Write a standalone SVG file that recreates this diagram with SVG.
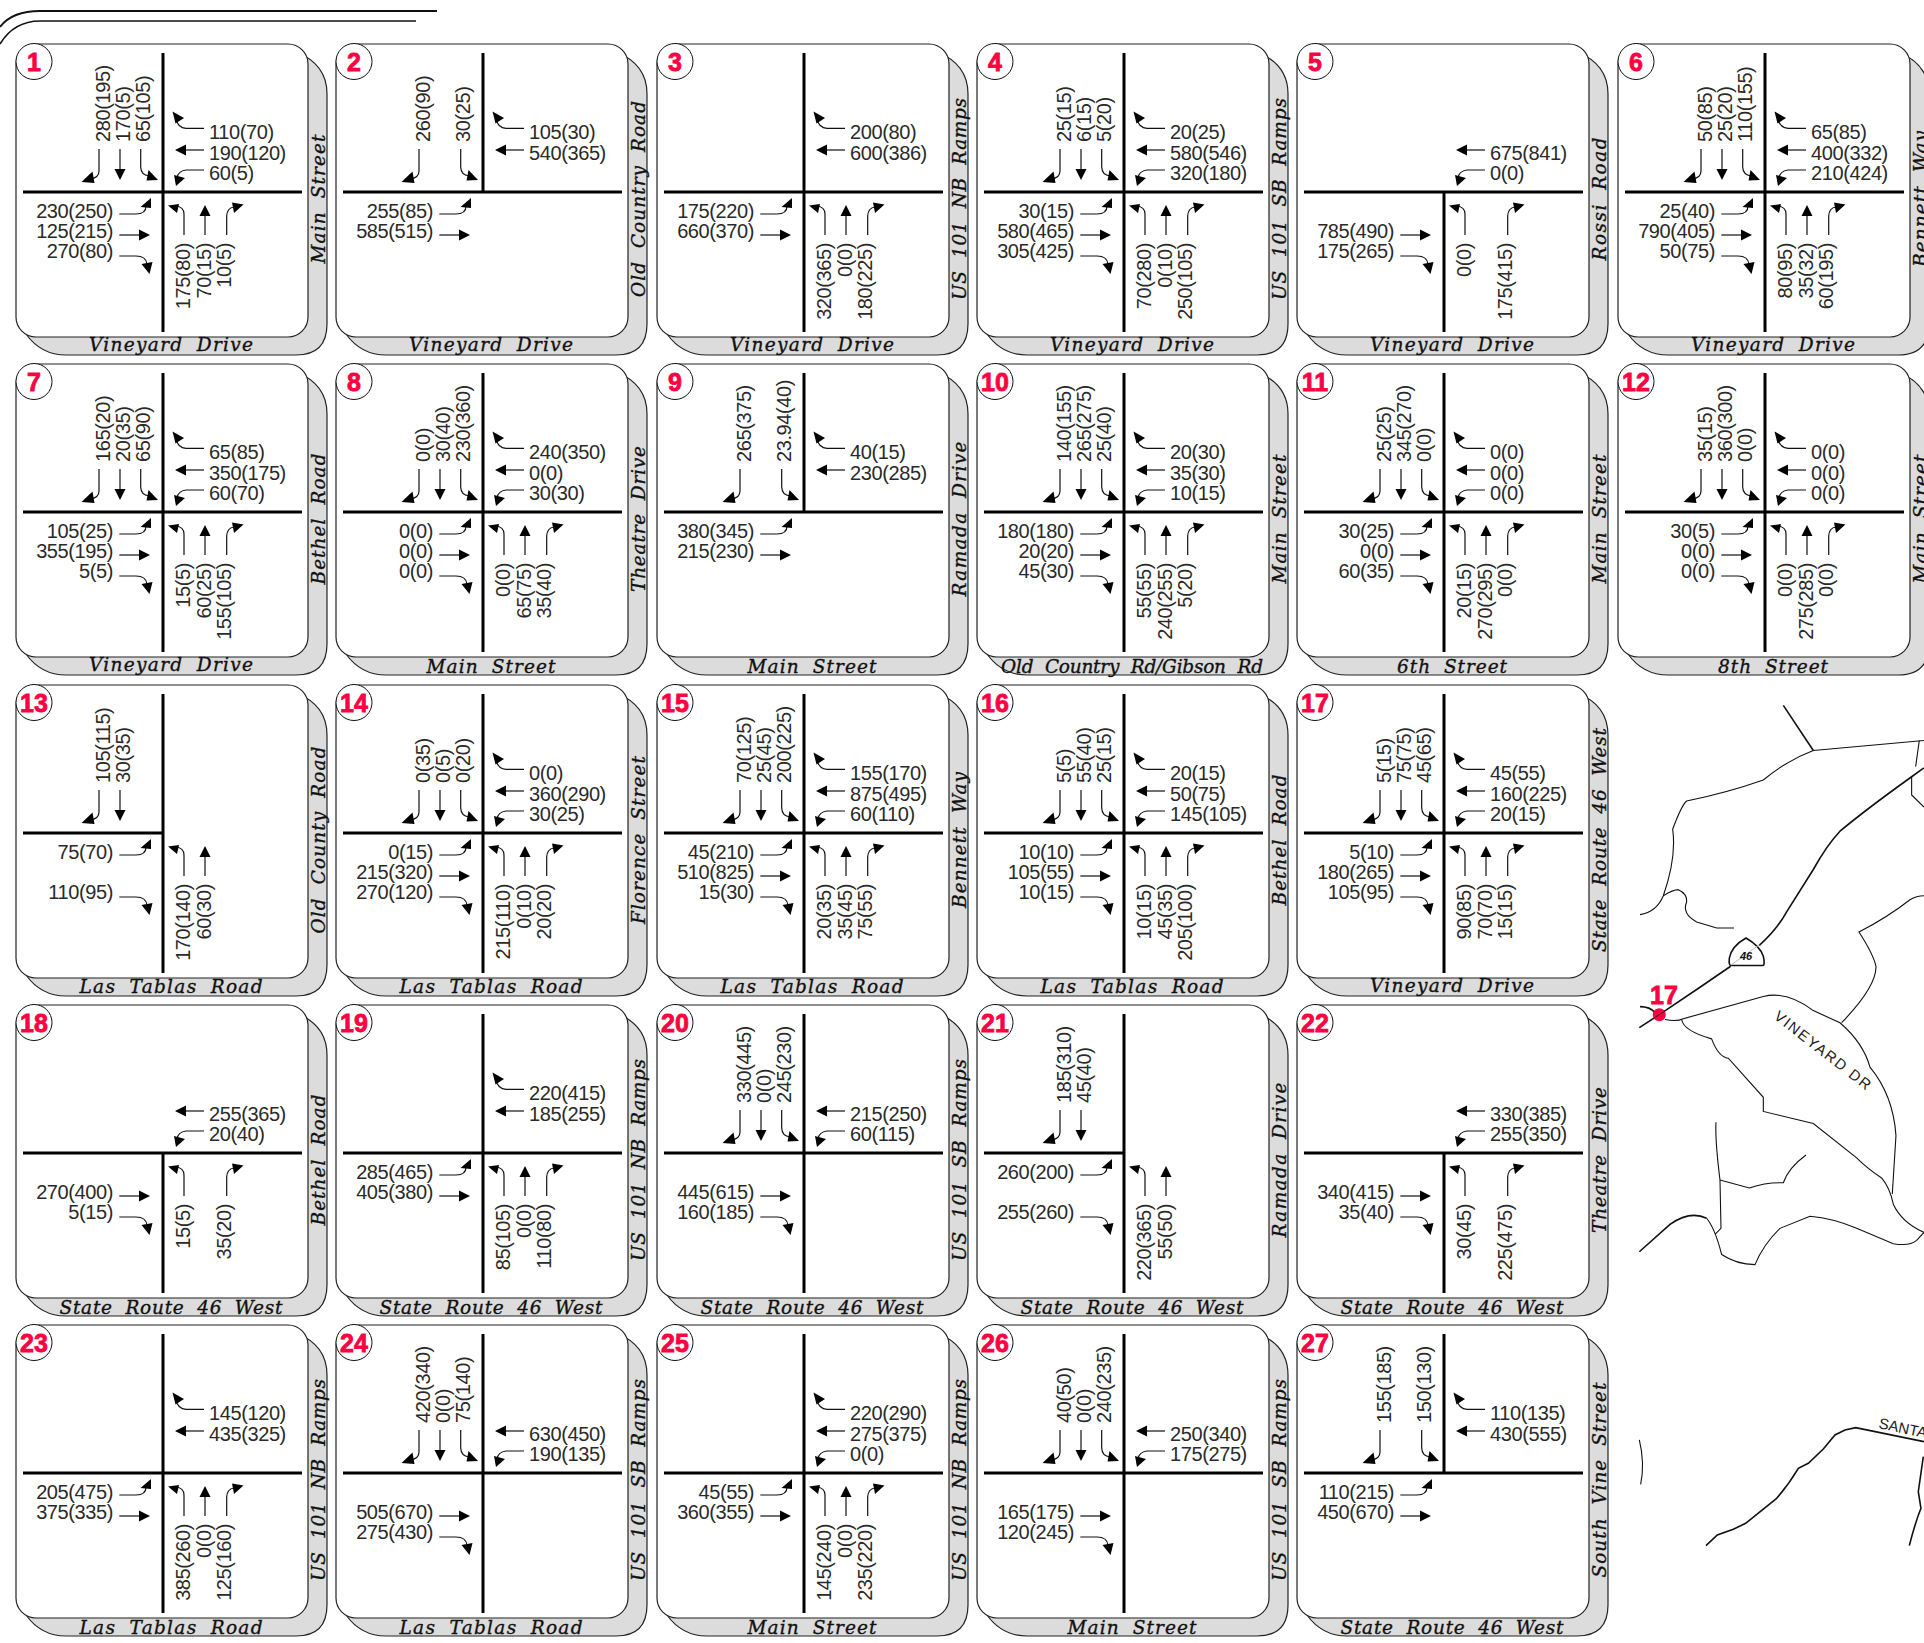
<svg xmlns="http://www.w3.org/2000/svg" width="1924" height="1643" viewBox="0 0 1924 1643">
<style>
text{font-family:"Liberation Sans",Arial,sans-serif}
.l{font-size:20px;fill:#2a2a2a;letter-spacing:-.4px}
.v{text-anchor:start}
.u{text-anchor:end}
.e{text-anchor:end}
.r{font-family:"DejaVu Serif",serif;font-size:18.5px;font-style:italic;font-weight:normal;stroke:#111;stroke-width:.35;text-anchor:middle;word-spacing:6px;fill:#111}
.b{font-size:25px;font-weight:bold;fill:#ff0040;stroke:#ff0040;stroke-width:.8;text-anchor:middle}
.g{fill:#dcdcdc;stroke:#222;stroke-width:1.2}
.w{fill:#fff;stroke:#222;stroke-width:1.2}
.c{fill:#fff;stroke:#111;stroke-width:1}
.x{fill:none;stroke:#000;stroke-width:3}
.a path{fill:none;stroke:#111;stroke-width:1.2}
.a polygon{fill:#000}
.m path,.k{fill:none;stroke:#111;stroke-width:1.1;vector-effect:non-scaling-stroke}
.m path.t{stroke-width:1.6}
.mt{font-size:15px;fill:#222}
</style>
<defs>
<g id="pb"><path class="g" d="M280 8Q311 20 311 50V280Q311 311 280 311H50Q25 311 10 290Z"/><rect class="w" width="292" height="293" rx="20"/><circle class="c" cx="18" cy="17.5" r="18"/></g>
<path id="xf" class="x" d="M147 9V288M7 148H286"/>
<path id="xt" class="x" d="M147 9V148M7 148H286"/>
<path id="xb" class="x" d="M147 148V288M7 148H286"/>
<path id="xl" class="x" d="M147 9V288M7 148H147"/>
<g id="s1" class="a"><path d="M83 105V127Q83 134 74 135"/><polygon points="65.5,138 76.5,127.5 78.5,139"/></g>
<g id="s2" class="a"><path d="M104 105V126"/><polygon points="104,136 98.5,125 109.5,125"/></g>
<g id="s3" class="a"><path d="M124.7 105V123Q125 131 133 132"/><polygon points="142,136 132.5,126 130.5,136.5"/></g>
<g id="w1" class="a"><path d="M188 84.3H170Q162 84 160 75"/><polygon points="156.5,67.5 168,74 159.5,79.5"/></g>
<g id="w2" class="a"><path d="M188 106H168"/><polygon points="159,106 170,100.5 170,111.5"/></g>
<g id="w3" class="a"><path d="M188 126H170Q162 127 161 134"/><polygon points="160,142 158,131 169,134"/></g>
<g id="e1" class="a"><path d="M103.3 170H120Q130 170 130 162"/><polygon points="135,154 124.5,163 135,164"/></g>
<g id="e2" class="a"><path d="M103.3 191H124"/><polygon points="134,191 123,185.5 123,196.5"/></g>
<g id="e3" class="a"><path d="M103.3 212H120Q130 212 131 220"/><polygon points="133.5,230 125.5,220 136.5,218"/></g>
<g id="n1_" class="a"><path d="M168 191V170Q168 163 160 162"/><polygon points="152,161.5 163,160 161,169"/></g>
<g id="n2_" class="a"><path d="M189 191V170"/><polygon points="189,161 183.5,172 194.5,172"/></g>
<g id="n3_" class="a"><path d="M210.7 191V172Q211 164 218 163"/><polygon points="227.5,160.5 216,158.5 218,169"/></g>
</defs>
<g id="frame"><path class="k" style="stroke-width:1.8" d="M0 27Q12 11 40 11H437"/><path class="k" style="stroke-width:1.5" d="M0 44Q14 21 40 21H416"/></g>

<g id="n1" transform="translate(16,44)"><use href="#pb"/><use href="#xf"/><text class="b" x="18" y="27">1</text>
<use href="#s1"/><use href="#s2"/><use href="#s3"/><use href="#w1"/><use href="#w2"/><use href="#w3"/><use href="#e1"/><use href="#e2"/><use href="#e3"/><use href="#n1_"/><use href="#n2_"/><use href="#n3_"/>
<text class="l v" x="94" y="98" transform="rotate(-90 94 98)">280(195)</text><text class="l v" x="114" y="98" transform="rotate(-90 114 98)">170(5)</text><text class="l v" x="134" y="98" transform="rotate(-90 134 98)">65(105)</text>
<text class="l" x="193" y="95">110(70)</text><text class="l" x="193" y="116">190(120)</text><text class="l" x="193" y="136">60(5)</text>
<text class="l e" x="97" y="174">230(250)</text><text class="l e" x="97" y="194">125(215)</text><text class="l e" x="97" y="214">270(80)</text>
<text class="l u" x="174" y="199" transform="rotate(-90 174 199)">175(80)</text><text class="l u" x="195" y="199" transform="rotate(-90 195 199)">70(15)</text><text class="l u" x="215" y="199" transform="rotate(-90 215 199)">10(5)</text>
<text class="r" x="155" y="307" textLength="164">Vineyard Drive</text><text class="r" x="309" y="155" transform="rotate(-90 309 155)" textLength="129">Main Street</text></g>

<g id="n2" transform="translate(336,44)"><use href="#pb"/><use href="#xt"/><text class="b" x="18" y="27">2</text>
<use href="#s1"/><use href="#s3"/><use href="#w1"/><use href="#w2"/><use href="#e1"/><use href="#e2"/>
<text class="l v" x="94" y="98" transform="rotate(-90 94 98)">260(90)</text><text class="l v" x="134" y="98" transform="rotate(-90 134 98)">30(25)</text>
<text class="l" x="193" y="95">105(30)</text><text class="l" x="193" y="116">540(365)</text>
<text class="l e" x="97" y="174">255(85)</text><text class="l e" x="97" y="194">585(515)</text>
<text class="r" x="155" y="307" textLength="164">Vineyard Drive</text><text class="r" x="309" y="155" transform="rotate(-90 309 155)" textLength="196">Old Country Road</text></g>

<g id="n3" transform="translate(657,44)"><use href="#pb"/><use href="#xf"/><text class="b" x="18" y="27">3</text>
<use href="#w1"/><use href="#w2"/><use href="#e1"/><use href="#e2"/><use href="#n1_"/><use href="#n2_"/><use href="#n3_"/>
<text class="l" x="193" y="95">200(80)</text><text class="l" x="193" y="116">600(386)</text>
<text class="l e" x="97" y="174">175(220)</text><text class="l e" x="97" y="194">660(370)</text>
<text class="l u" x="174" y="199" transform="rotate(-90 174 199)">320(365)</text><text class="l u" x="195" y="199" transform="rotate(-90 195 199)">0(0)</text><text class="l u" x="215" y="199" transform="rotate(-90 215 199)">180(225)</text>
<text class="r" x="155" y="307" textLength="164">Vineyard Drive</text><text class="r" x="309" y="155" transform="rotate(-90 309 155)" textLength="202">US 101 NB Ramps</text></g>

<g id="n4" transform="translate(977,44)"><use href="#pb"/><use href="#xf"/><text class="b" x="18" y="27">4</text>
<use href="#s1"/><use href="#s2"/><use href="#s3"/><use href="#w1"/><use href="#w2"/><use href="#w3"/><use href="#e1"/><use href="#e2"/><use href="#e3"/><use href="#n1_"/><use href="#n2_"/><use href="#n3_"/>
<text class="l v" x="94" y="98" transform="rotate(-90 94 98)">25(15)</text><text class="l v" x="114" y="98" transform="rotate(-90 114 98)">6(15)</text><text class="l v" x="134" y="98" transform="rotate(-90 134 98)">5(20)</text>
<text class="l" x="193" y="95">20(25)</text><text class="l" x="193" y="116">580(546)</text><text class="l" x="193" y="136">320(180)</text>
<text class="l e" x="97" y="174">30(15)</text><text class="l e" x="97" y="194">580(465)</text><text class="l e" x="97" y="214">305(425)</text>
<text class="l u" x="174" y="199" transform="rotate(-90 174 199)">70(280)</text><text class="l u" x="195" y="199" transform="rotate(-90 195 199)">0(10)</text><text class="l u" x="215" y="199" transform="rotate(-90 215 199)">250(105)</text>
<text class="r" x="155" y="307" textLength="164">Vineyard Drive</text><text class="r" x="309" y="155" transform="rotate(-90 309 155)" textLength="202">US 101 SB Ramps</text></g>

<g id="n5" transform="translate(1297,44)"><use href="#pb"/><use href="#xb"/><text class="b" x="18" y="27">5</text>
<use href="#w2"/><use href="#w3"/><use href="#e2"/><use href="#e3"/><use href="#n1_"/><use href="#n3_"/>
<text class="l" x="193" y="116">675(841)</text><text class="l" x="193" y="136">0(0)</text>
<text class="l e" x="97" y="194">785(490)</text><text class="l e" x="97" y="214">175(265)</text>
<text class="l u" x="174" y="199" transform="rotate(-90 174 199)">0(0)</text><text class="l u" x="215" y="199" transform="rotate(-90 215 199)">175(415)</text>
<text class="r" x="155" y="307" textLength="164">Vineyard Drive</text><text class="r" x="309" y="155" transform="rotate(-90 309 155)" textLength="123">Rossi Road</text></g>

<g id="n6" transform="translate(1618,44)"><use href="#pb"/><use href="#xf"/><text class="b" x="18" y="27">6</text>
<use href="#s1"/><use href="#s2"/><use href="#s3"/><use href="#w1"/><use href="#w2"/><use href="#w3"/><use href="#e1"/><use href="#e2"/><use href="#e3"/><use href="#n1_"/><use href="#n2_"/><use href="#n3_"/>
<text class="l v" x="94" y="98" transform="rotate(-90 94 98)">50(85)</text><text class="l v" x="114" y="98" transform="rotate(-90 114 98)">25(20)</text><text class="l v" x="134" y="98" transform="rotate(-90 134 98)">110(155)</text>
<text class="l" x="193" y="95">65(85)</text><text class="l" x="193" y="116">400(332)</text><text class="l" x="193" y="136">210(424)</text>
<text class="l e" x="97" y="174">25(40)</text><text class="l e" x="97" y="194">790(405)</text><text class="l e" x="97" y="214">50(75)</text>
<text class="l u" x="174" y="199" transform="rotate(-90 174 199)">80(95)</text><text class="l u" x="195" y="199" transform="rotate(-90 195 199)">35(32)</text><text class="l u" x="215" y="199" transform="rotate(-90 215 199)">60(195)</text>
<text class="r" x="155" y="307" textLength="164">Vineyard Drive</text><text class="r" x="309" y="155" transform="rotate(-90 309 155)" textLength="136">Bennett Way</text></g>

<g id="n7" transform="translate(16,364)"><use href="#pb"/><use href="#xf"/><text class="b" x="18" y="27">7</text>
<use href="#s1"/><use href="#s2"/><use href="#s3"/><use href="#w1"/><use href="#w2"/><use href="#w3"/><use href="#e1"/><use href="#e2"/><use href="#e3"/><use href="#n1_"/><use href="#n2_"/><use href="#n3_"/>
<text class="l v" x="94" y="98" transform="rotate(-90 94 98)">165(20)</text><text class="l v" x="114" y="98" transform="rotate(-90 114 98)">20(35)</text><text class="l v" x="134" y="98" transform="rotate(-90 134 98)">65(90)</text>
<text class="l" x="193" y="95">65(85)</text><text class="l" x="193" y="116">350(175)</text><text class="l" x="193" y="136">60(70)</text>
<text class="l e" x="97" y="174">105(25)</text><text class="l e" x="97" y="194">355(195)</text><text class="l e" x="97" y="214">5(5)</text>
<text class="l u" x="174" y="199" transform="rotate(-90 174 199)">15(5)</text><text class="l u" x="195" y="199" transform="rotate(-90 195 199)">60(25)</text><text class="l u" x="215" y="199" transform="rotate(-90 215 199)">155(105)</text>
<text class="r" x="155" y="307" textLength="164">Vineyard Drive</text><text class="r" x="309" y="155" transform="rotate(-90 309 155)" textLength="131">Bethel Road</text></g>

<g id="n8" transform="translate(336,364)"><use href="#pb"/><use href="#xf"/><text class="b" x="18" y="27">8</text>
<use href="#s1"/><use href="#s2"/><use href="#s3"/><use href="#w1"/><use href="#w2"/><use href="#w3"/><use href="#e1"/><use href="#e2"/><use href="#e3"/><use href="#n1_"/><use href="#n2_"/><use href="#n3_"/>
<text class="l v" x="94" y="98" transform="rotate(-90 94 98)">0(0)</text><text class="l v" x="114" y="98" transform="rotate(-90 114 98)">30(40)</text><text class="l v" x="134" y="98" transform="rotate(-90 134 98)">230(360)</text>
<text class="l" x="193" y="95">240(350)</text><text class="l" x="193" y="116">0(0)</text><text class="l" x="193" y="136">30(30)</text>
<text class="l e" x="97" y="174">0(0)</text><text class="l e" x="97" y="194">0(0)</text><text class="l e" x="97" y="214">0(0)</text>
<text class="l u" x="174" y="199" transform="rotate(-90 174 199)">0(0)</text><text class="l u" x="195" y="199" transform="rotate(-90 195 199)">65(75)</text><text class="l u" x="215" y="199" transform="rotate(-90 215 199)">35(40)</text>
<text class="r" x="155" y="309" textLength="129">Main Street</text><text class="r" x="309" y="155" transform="rotate(-90 309 155)" textLength="146">Theatre Drive</text></g>

<g id="n9" transform="translate(657,364)"><use href="#pb"/><use href="#xt"/><text class="b" x="18" y="27">9</text>
<use href="#s1"/><use href="#s3"/><use href="#w1"/><use href="#w2"/><use href="#e1"/><use href="#e2"/>
<text class="l v" x="94" y="98" transform="rotate(-90 94 98)">265(375)</text><text class="l v" x="134" y="98" transform="rotate(-90 134 98)">23.94(40)</text>
<text class="l" x="193" y="95">40(15)</text><text class="l" x="193" y="116">230(285)</text>
<text class="l e" x="97" y="174">380(345)</text><text class="l e" x="97" y="194">215(230)</text>
<text class="r" x="155" y="309" textLength="129">Main Street</text><text class="r" x="309" y="155" transform="rotate(-90 309 155)" textLength="155">Ramada Drive</text></g>

<g id="n10" transform="translate(977,364)"><use href="#pb"/><use href="#xf"/><text class="b" x="18" y="27">10</text>
<use href="#s1"/><use href="#s2"/><use href="#s3"/><use href="#w1"/><use href="#w2"/><use href="#w3"/><use href="#e1"/><use href="#e2"/><use href="#e3"/><use href="#n1_"/><use href="#n2_"/><use href="#n3_"/>
<text class="l v" x="94" y="98" transform="rotate(-90 94 98)">140(155)</text><text class="l v" x="114" y="98" transform="rotate(-90 114 98)">265(275)</text><text class="l v" x="134" y="98" transform="rotate(-90 134 98)">25(40)</text>
<text class="l" x="193" y="95">20(30)</text><text class="l" x="193" y="116">35(30)</text><text class="l" x="193" y="136">10(15)</text>
<text class="l e" x="97" y="174">180(180)</text><text class="l e" x="97" y="194">20(20)</text><text class="l e" x="97" y="214">45(30)</text>
<text class="l u" x="174" y="199" transform="rotate(-90 174 199)">55(55)</text><text class="l u" x="195" y="199" transform="rotate(-90 195 199)">240(255)</text><text class="l u" x="215" y="199" transform="rotate(-90 215 199)">5(20)</text>
<text class="r" x="155" y="309" textLength="262">Old Country Rd/Gibson Rd</text><text class="r" x="309" y="155" transform="rotate(-90 309 155)" textLength="129">Main Street</text></g>

<g id="n11" transform="translate(1297,364)"><use href="#pb"/><use href="#xf"/><text class="b" x="18" y="27">11</text>
<use href="#s1"/><use href="#s2"/><use href="#s3"/><use href="#w1"/><use href="#w2"/><use href="#w3"/><use href="#e1"/><use href="#e2"/><use href="#e3"/><use href="#n1_"/><use href="#n2_"/><use href="#n3_"/>
<text class="l v" x="94" y="98" transform="rotate(-90 94 98)">25(25)</text><text class="l v" x="114" y="98" transform="rotate(-90 114 98)">345(270)</text><text class="l v" x="134" y="98" transform="rotate(-90 134 98)">0(0)</text>
<text class="l" x="193" y="95">0(0)</text><text class="l" x="193" y="116">0(0)</text><text class="l" x="193" y="136">0(0)</text>
<text class="l e" x="97" y="174">30(25)</text><text class="l e" x="97" y="194">0(0)</text><text class="l e" x="97" y="214">60(35)</text>
<text class="l u" x="174" y="199" transform="rotate(-90 174 199)">20(15)</text><text class="l u" x="195" y="199" transform="rotate(-90 195 199)">270(295)</text><text class="l u" x="215" y="199" transform="rotate(-90 215 199)">0(0)</text>
<text class="r" x="155" y="309" textLength="110">6th Street</text><text class="r" x="309" y="155" transform="rotate(-90 309 155)" textLength="129">Main Street</text></g>

<g id="n12" transform="translate(1618,364)"><use href="#pb"/><use href="#xf"/><text class="b" x="18" y="27">12</text>
<use href="#s1"/><use href="#s2"/><use href="#s3"/><use href="#w1"/><use href="#w2"/><use href="#w3"/><use href="#e1"/><use href="#e2"/><use href="#e3"/><use href="#n1_"/><use href="#n2_"/><use href="#n3_"/>
<text class="l v" x="94" y="98" transform="rotate(-90 94 98)">35(15)</text><text class="l v" x="114" y="98" transform="rotate(-90 114 98)">360(300)</text><text class="l v" x="134" y="98" transform="rotate(-90 134 98)">0(0)</text>
<text class="l" x="193" y="95">0(0)</text><text class="l" x="193" y="116">0(0)</text><text class="l" x="193" y="136">0(0)</text>
<text class="l e" x="97" y="174">30(5)</text><text class="l e" x="97" y="194">0(0)</text><text class="l e" x="97" y="214">0(0)</text>
<text class="l u" x="174" y="199" transform="rotate(-90 174 199)">0(0)</text><text class="l u" x="195" y="199" transform="rotate(-90 195 199)">275(285)</text><text class="l u" x="215" y="199" transform="rotate(-90 215 199)">0(0)</text>
<text class="r" x="155" y="309" textLength="110">8th Street</text><text class="r" x="309" y="155" transform="rotate(-90 309 155)" textLength="129">Main Street</text></g>

<g id="n13" transform="translate(16,685)"><use href="#pb"/><use href="#xl"/><text class="b" x="18" y="27">13</text>
<use href="#s1"/><use href="#s2"/><use href="#e1"/><use href="#e3"/><use href="#n1_"/><use href="#n2_"/>
<text class="l v" x="94" y="98" transform="rotate(-90 94 98)">105(115)</text><text class="l v" x="114" y="98" transform="rotate(-90 114 98)">30(35)</text>
<text class="l e" x="97" y="174">75(70)</text><text class="l e" x="97" y="214">110(95)</text>
<text class="l u" x="174" y="199" transform="rotate(-90 174 199)">170(140)</text><text class="l u" x="195" y="199" transform="rotate(-90 195 199)">60(30)</text>
<text class="r" x="155" y="308" textLength="183">Las Tablas Road</text><text class="r" x="309" y="155" transform="rotate(-90 309 155)" textLength="187">Old County Road</text></g>

<g id="n14" transform="translate(336,685)"><use href="#pb"/><use href="#xf"/><text class="b" x="18" y="27">14</text>
<use href="#s1"/><use href="#s2"/><use href="#s3"/><use href="#w1"/><use href="#w2"/><use href="#w3"/><use href="#e1"/><use href="#e2"/><use href="#e3"/><use href="#n1_"/><use href="#n2_"/><use href="#n3_"/>
<text class="l v" x="94" y="98" transform="rotate(-90 94 98)">0(35)</text><text class="l v" x="114" y="98" transform="rotate(-90 114 98)">0(5)</text><text class="l v" x="134" y="98" transform="rotate(-90 134 98)">0(20)</text>
<text class="l" x="193" y="95">0(0)</text><text class="l" x="193" y="116">360(290)</text><text class="l" x="193" y="136">30(25)</text>
<text class="l e" x="97" y="174">0(15)</text><text class="l e" x="97" y="194">215(320)</text><text class="l e" x="97" y="214">270(120)</text>
<text class="l u" x="174" y="199" transform="rotate(-90 174 199)">215(110)</text><text class="l u" x="195" y="199" transform="rotate(-90 195 199)">0(10)</text><text class="l u" x="215" y="199" transform="rotate(-90 215 199)">20(20)</text>
<text class="r" x="155" y="308" textLength="183">Las Tablas Road</text><text class="r" x="309" y="155" transform="rotate(-90 309 155)" textLength="168">Florence Street</text></g>

<g id="n15" transform="translate(657,685)"><use href="#pb"/><use href="#xf"/><text class="b" x="18" y="27">15</text>
<use href="#s1"/><use href="#s2"/><use href="#s3"/><use href="#w1"/><use href="#w2"/><use href="#w3"/><use href="#e1"/><use href="#e2"/><use href="#e3"/><use href="#n1_"/><use href="#n2_"/><use href="#n3_"/>
<text class="l v" x="94" y="98" transform="rotate(-90 94 98)">70(125)</text><text class="l v" x="114" y="98" transform="rotate(-90 114 98)">25(45)</text><text class="l v" x="134" y="98" transform="rotate(-90 134 98)">200(225)</text>
<text class="l" x="193" y="95">155(170)</text><text class="l" x="193" y="116">875(495)</text><text class="l" x="193" y="136">60(110)</text>
<text class="l e" x="97" y="174">45(210)</text><text class="l e" x="97" y="194">510(825)</text><text class="l e" x="97" y="214">15(30)</text>
<text class="l u" x="174" y="199" transform="rotate(-90 174 199)">20(35)</text><text class="l u" x="195" y="199" transform="rotate(-90 195 199)">35(45)</text><text class="l u" x="215" y="199" transform="rotate(-90 215 199)">75(55)</text>
<text class="r" x="155" y="308" textLength="183">Las Tablas Road</text><text class="r" x="309" y="155" transform="rotate(-90 309 155)" textLength="136">Bennett Way</text></g>

<g id="n16" transform="translate(977,685)"><use href="#pb"/><use href="#xf"/><text class="b" x="18" y="27">16</text>
<use href="#s1"/><use href="#s2"/><use href="#s3"/><use href="#w1"/><use href="#w2"/><use href="#w3"/><use href="#e1"/><use href="#e2"/><use href="#e3"/><use href="#n1_"/><use href="#n2_"/><use href="#n3_"/>
<text class="l v" x="94" y="98" transform="rotate(-90 94 98)">5(5)</text><text class="l v" x="114" y="98" transform="rotate(-90 114 98)">55(40)</text><text class="l v" x="134" y="98" transform="rotate(-90 134 98)">25(15)</text>
<text class="l" x="193" y="95">20(15)</text><text class="l" x="193" y="116">50(75)</text><text class="l" x="193" y="136">145(105)</text>
<text class="l e" x="97" y="174">10(10)</text><text class="l e" x="97" y="194">105(55)</text><text class="l e" x="97" y="214">10(15)</text>
<text class="l u" x="174" y="199" transform="rotate(-90 174 199)">10(15)</text><text class="l u" x="195" y="199" transform="rotate(-90 195 199)">45(35)</text><text class="l u" x="215" y="199" transform="rotate(-90 215 199)">205(100)</text>
<text class="r" x="155" y="308" textLength="183">Las Tablas Road</text><text class="r" x="309" y="155" transform="rotate(-90 309 155)" textLength="131">Bethel Road</text></g>

<g id="n17" transform="translate(1297,685)"><use href="#pb"/><use href="#xf"/><text class="b" x="18" y="27">17</text>
<use href="#s1"/><use href="#s2"/><use href="#s3"/><use href="#w1"/><use href="#w2"/><use href="#w3"/><use href="#e1"/><use href="#e2"/><use href="#e3"/><use href="#n1_"/><use href="#n2_"/><use href="#n3_"/>
<text class="l v" x="94" y="98" transform="rotate(-90 94 98)">5(15)</text><text class="l v" x="114" y="98" transform="rotate(-90 114 98)">75(75)</text><text class="l v" x="134" y="98" transform="rotate(-90 134 98)">45(65)</text>
<text class="l" x="193" y="95">45(55)</text><text class="l" x="193" y="116">160(225)</text><text class="l" x="193" y="136">20(15)</text>
<text class="l e" x="97" y="174">5(10)</text><text class="l e" x="97" y="194">180(265)</text><text class="l e" x="97" y="214">105(95)</text>
<text class="l u" x="174" y="199" transform="rotate(-90 174 199)">90(85)</text><text class="l u" x="195" y="199" transform="rotate(-90 195 199)">70(70)</text><text class="l u" x="215" y="199" transform="rotate(-90 215 199)">15(15)</text>
<text class="r" x="155" y="307" textLength="164">Vineyard Drive</text><text class="r" x="309" y="155" transform="rotate(-90 309 155)" textLength="224">State Route 46 West</text></g>

<g id="n18" transform="translate(16,1005)"><use href="#pb"/><use href="#xb"/><text class="b" x="18" y="27">18</text>
<use href="#w2"/><use href="#w3"/><use href="#e2"/><use href="#e3"/><use href="#n1_"/><use href="#n3_"/>
<text class="l" x="193" y="116">255(365)</text><text class="l" x="193" y="136">20(40)</text>
<text class="l e" x="97" y="194">270(400)</text><text class="l e" x="97" y="214">5(15)</text>
<text class="l u" x="174" y="199" transform="rotate(-90 174 199)">15(5)</text><text class="l u" x="215" y="199" transform="rotate(-90 215 199)">35(20)</text>
<text class="r" x="155" y="309" textLength="223">State Route 46 West</text><text class="r" x="309" y="155" transform="rotate(-90 309 155)" textLength="131">Bethel Road</text></g>

<g id="n19" transform="translate(336,1005)"><use href="#pb"/><use href="#xf"/><text class="b" x="18" y="27">19</text>
<use href="#w1"/><use href="#w2"/><use href="#e1"/><use href="#e2"/><use href="#n1_"/><use href="#n2_"/><use href="#n3_"/>
<text class="l" x="193" y="95">220(415)</text><text class="l" x="193" y="116">185(255)</text>
<text class="l e" x="97" y="174">285(465)</text><text class="l e" x="97" y="194">405(380)</text>
<text class="l u" x="174" y="199" transform="rotate(-90 174 199)">85(105)</text><text class="l u" x="195" y="199" transform="rotate(-90 195 199)">0(0)</text><text class="l u" x="215" y="199" transform="rotate(-90 215 199)">110(80)</text>
<text class="r" x="155" y="309" textLength="223">State Route 46 West</text><text class="r" x="309" y="155" transform="rotate(-90 309 155)" textLength="202">US 101 NB Ramps</text></g>

<g id="n20" transform="translate(657,1005)"><use href="#pb"/><use href="#xf"/><text class="b" x="18" y="27">20</text>
<use href="#s1"/><use href="#s2"/><use href="#s3"/><use href="#w2"/><use href="#w3"/><use href="#e2"/><use href="#e3"/>
<text class="l v" x="94" y="98" transform="rotate(-90 94 98)">330(445)</text><text class="l v" x="114" y="98" transform="rotate(-90 114 98)">0(0)</text><text class="l v" x="134" y="98" transform="rotate(-90 134 98)">245(230)</text>
<text class="l" x="193" y="116">215(250)</text><text class="l" x="193" y="136">60(115)</text>
<text class="l e" x="97" y="194">445(615)</text><text class="l e" x="97" y="214">160(185)</text>
<text class="r" x="155" y="309" textLength="223">State Route 46 West</text><text class="r" x="309" y="155" transform="rotate(-90 309 155)" textLength="202">US 101 SB Ramps</text></g>

<g id="n21" transform="translate(977,1005)"><use href="#pb"/><use href="#xl"/><text class="b" x="18" y="27">21</text>
<use href="#s1"/><use href="#s2"/><use href="#e1"/><use href="#e3"/><use href="#n1_"/><use href="#n2_"/>
<text class="l v" x="94" y="98" transform="rotate(-90 94 98)">185(310)</text><text class="l v" x="114" y="98" transform="rotate(-90 114 98)">45(40)</text>
<text class="l e" x="97" y="174">260(200)</text><text class="l e" x="97" y="214">255(260)</text>
<text class="l u" x="174" y="199" transform="rotate(-90 174 199)">220(365)</text><text class="l u" x="195" y="199" transform="rotate(-90 195 199)">55(50)</text>
<text class="r" x="155" y="309" textLength="223">State Route 46 West</text><text class="r" x="309" y="155" transform="rotate(-90 309 155)" textLength="155">Ramada Drive</text></g>

<g id="n22" transform="translate(1297,1005)"><use href="#pb"/><use href="#xb"/><text class="b" x="18" y="27">22</text>
<use href="#w2"/><use href="#w3"/><use href="#e2"/><use href="#e3"/><use href="#n1_"/><use href="#n3_"/>
<text class="l" x="193" y="116">330(385)</text><text class="l" x="193" y="136">255(350)</text>
<text class="l e" x="97" y="194">340(415)</text><text class="l e" x="97" y="214">35(40)</text>
<text class="l u" x="174" y="199" transform="rotate(-90 174 199)">30(45)</text><text class="l u" x="215" y="199" transform="rotate(-90 215 199)">225(475)</text>
<text class="r" x="155" y="309" textLength="223">State Route 46 West</text><text class="r" x="309" y="155" transform="rotate(-90 309 155)" textLength="146">Theatre Drive</text></g>

<g id="n23" transform="translate(16,1325)"><use href="#pb"/><use href="#xf"/><text class="b" x="18" y="27">23</text>
<use href="#w1"/><use href="#w2"/><use href="#e1"/><use href="#e2"/><use href="#n1_"/><use href="#n2_"/><use href="#n3_"/>
<text class="l" x="193" y="95">145(120)</text><text class="l" x="193" y="116">435(325)</text>
<text class="l e" x="97" y="174">205(475)</text><text class="l e" x="97" y="194">375(335)</text>
<text class="l u" x="174" y="199" transform="rotate(-90 174 199)">385(260)</text><text class="l u" x="195" y="199" transform="rotate(-90 195 199)">0(0)</text><text class="l u" x="215" y="199" transform="rotate(-90 215 199)">125(160)</text>
<text class="r" x="155" y="309" textLength="183">Las Tablas Road</text><text class="r" x="309" y="155" transform="rotate(-90 309 155)" textLength="202">US 101 NB Ramps</text></g>

<g id="n24" transform="translate(336,1325)"><use href="#pb"/><use href="#xf"/><text class="b" x="18" y="27">24</text>
<use href="#s1"/><use href="#s2"/><use href="#s3"/><use href="#w2"/><use href="#w3"/><use href="#e2"/><use href="#e3"/>
<text class="l v" x="94" y="98" transform="rotate(-90 94 98)">420(340)</text><text class="l v" x="114" y="98" transform="rotate(-90 114 98)">0(0)</text><text class="l v" x="134" y="98" transform="rotate(-90 134 98)">75(140)</text>
<text class="l" x="193" y="116">630(450)</text><text class="l" x="193" y="136">190(135)</text>
<text class="l e" x="97" y="194">505(670)</text><text class="l e" x="97" y="214">275(430)</text>
<text class="r" x="155" y="309" textLength="183">Las Tablas Road</text><text class="r" x="309" y="155" transform="rotate(-90 309 155)" textLength="202">US 101 SB Ramps</text></g>

<g id="n25" transform="translate(657,1325)"><use href="#pb"/><use href="#xf"/><text class="b" x="18" y="27">25</text>
<use href="#w1"/><use href="#w2"/><use href="#w3"/><use href="#e1"/><use href="#e2"/><use href="#n1_"/><use href="#n2_"/><use href="#n3_"/>
<text class="l" x="193" y="95">220(290)</text><text class="l" x="193" y="116">275(375)</text><text class="l" x="193" y="136">0(0)</text>
<text class="l e" x="97" y="174">45(55)</text><text class="l e" x="97" y="194">360(355)</text>
<text class="l u" x="174" y="199" transform="rotate(-90 174 199)">145(240)</text><text class="l u" x="195" y="199" transform="rotate(-90 195 199)">0(0)</text><text class="l u" x="215" y="199" transform="rotate(-90 215 199)">235(220)</text>
<text class="r" x="155" y="309" textLength="129">Main Street</text><text class="r" x="309" y="155" transform="rotate(-90 309 155)" textLength="202">US 101 NB Ramps</text></g>

<g id="n26" transform="translate(977,1325)"><use href="#pb"/><use href="#xf"/><text class="b" x="18" y="27">26</text>
<use href="#s1"/><use href="#s2"/><use href="#s3"/><use href="#w2"/><use href="#w3"/><use href="#e2"/><use href="#e3"/>
<text class="l v" x="94" y="98" transform="rotate(-90 94 98)">40(50)</text><text class="l v" x="114" y="98" transform="rotate(-90 114 98)">0(0)</text><text class="l v" x="134" y="98" transform="rotate(-90 134 98)">240(235)</text>
<text class="l" x="193" y="116">250(340)</text><text class="l" x="193" y="136">175(275)</text>
<text class="l e" x="97" y="194">165(175)</text><text class="l e" x="97" y="214">120(245)</text>
<text class="r" x="155" y="309" textLength="129">Main Street</text><text class="r" x="309" y="155" transform="rotate(-90 309 155)" textLength="202">US 101 SB Ramps</text></g>

<g id="n27" transform="translate(1297,1325)"><use href="#pb"/><use href="#xt"/><text class="b" x="18" y="27">27</text>
<use href="#s1"/><use href="#s3"/><use href="#w1"/><use href="#w2"/><use href="#e1"/><use href="#e2"/>
<text class="l v" x="94" y="98" transform="rotate(-90 94 98)">155(185)</text><text class="l v" x="134" y="98" transform="rotate(-90 134 98)">150(130)</text>
<text class="l" x="193" y="95">110(135)</text><text class="l" x="193" y="116">430(555)</text>
<text class="l e" x="97" y="174">110(215)</text><text class="l e" x="97" y="194">450(670)</text>
<text class="r" x="155" y="309" textLength="223">State Route 46 West</text><text class="r" x="309" y="155" transform="rotate(-90 309 155)" textLength="195">South Vine Street</text></g>

<g id="map">
<g class="m" transform="translate(1600,680) scale(.3333,.4032)">
<path class="t" d="M118 862L178 830L300 762Q360 728 392 710"/>
<path class="t" d="M478 658Q530 620 560 575L640 470Q680 410 720 375Q800 320 935 240L972 218"/>
<path class="t" d="M120 810Q150 810 165 825"/>
<path class="t" d="M550 63L640 175"/>
<path d="M972 150L640 175Q560 200 490 248Q380 280 260 300Q245 310 218 370Q230 440 190 535Q170 575 120 582"/>
<path d="M190 535Q220 520 235 520Q262 530 260 550Q245 580 290 600L350 615H402"/>
<path d="M958 150L947 215M935 240V285L972 315"/>
<path d="M195 842Q230 848 250 840L490 785Q560 770 640 820L720 850Q790 900 810 960Q880 1030 888 1130L877 1275"/>
<path d="M725 850Q830 760 828 710Q820 680 777 625Q860 590 930 545Q950 535 972 535"/>
<path d="M245 842Q250 870 335 890Q355 935 385 938L490 1035V1070Q590 1090 640 1100L770 1185Q800 1210 845 1235Q870 1260 880 1300Q905 1345 972 1370"/>
<path d="M348 1097Q345 1140 360 1240L363 1360L345 1375M360 1240L448 1260Q500 1245 550 1247Q565 1210 618 1178"/>
<path class="t" d="M118 1418L210 1350Q270 1315 320 1335"/>
<path d="M320 1335Q345 1360 365 1425Q410 1450 465 1450Q490 1400 540 1360L630 1330Q700 1335 770 1360L880 1398Q930 1405 950 1390L972 1370"/>
<path class="t" d="M392 708H488Q496 708 490 685Q480 660 438 640Q395 660 388 690Q386 708 392 708Z"/>
</g>
<line x1="1731" y1="965" x2="1759" y2="945" stroke="#bbb" stroke-width="1"/>
<text x="1746" y="960" style="font-size:11px;font-weight:bold;font-style:italic;text-anchor:middle;fill:#111">46</text>
<text class="mt" x="1773" y="1018" transform="rotate(38 1773 1018)" textLength="118">VINEYARD DR</text>
<text class="mt" x="1878" y="1428" transform="rotate(12 1878 1428)">SANTA</text>
<circle cx="1659.3" cy="1014.7" r="6.5" fill="#ff0040"/>
<path d="M1654 1018L1665 1011" stroke="#111" stroke-width=".8"/>
<text class="b" x="1664" y="1004">17</text>
<g transform="translate(1600,1300) scale(.3333)" class="m">
<path d="M118 420Q135 490 122 553"/>
<path class="t" d="M318 737L352 705L400 688L437 670L530 595Q565 555 595 505L625 490L670 447L705 405L735 390L767 383L972 425"/>
<path class="t" d="M970 470L955 575L963 625Q945 670 928 737"/>
</g>
</g>
</svg>
